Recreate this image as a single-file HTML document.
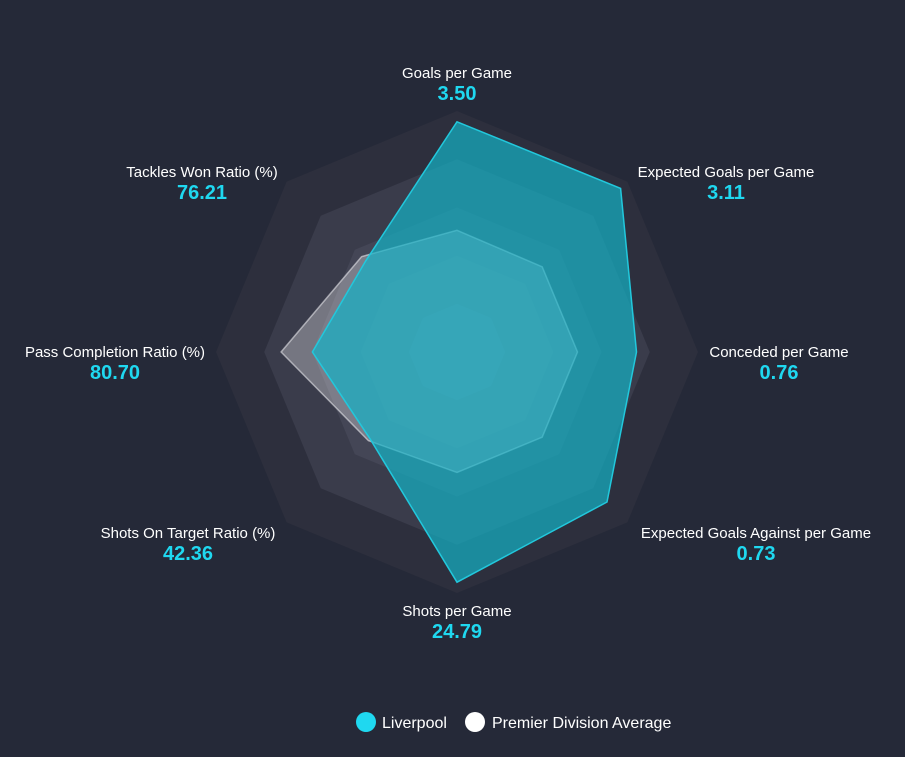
<!DOCTYPE html>
<html><head><meta charset="utf-8">
<style>
html,body{margin:0;padding:0;background:#252938;}
body{width:905px;height:752px;overflow:hidden;font-family:"Liberation Sans",sans-serif;}
svg text{font-family:"Liberation Sans",sans-serif;}
</style></head>
<body>
<svg id="chart" width="905" height="752" xmlns="http://www.w3.org/2000/svg">
<rect width="905" height="752" fill="#252938"/>
<g id="rings"></g>
<g id="series"></g>
<g id="labels"></g>
<g>
  <g>
    <circle cx="366" cy="722" r="10" fill="#1fd8f0"/>
    <text x="382" y="728" font-size="16" fill="#ffffff">Liverpool</text>
  </g>
  <g>
    <circle cx="475" cy="722" r="10" fill="#ffffff"/>
    <text x="492" y="728" font-size="16" fill="#ffffff">Premier Division Average</text>
  </g>
</g>
</svg>
<script>
const categories = ["Goals per Game","Expected Goals per Game","Conceded per Game","Expected Goals Against per Game","Shots per Game","Shots On Target Ratio (%)","Pass Completion Ratio (%)","Tackles Won Ratio (%)"];
const valueLabels = ["3.50","3.11","0.76","0.73","24.79","42.36","80.70","76.21"];
const liverpool = [0.955, 0.96, 0.745, 0.88, 0.955, 0.51, 0.60, 0.535];
const average = [0.505, 0.50, 0.50, 0.50, 0.50, 0.52, 0.73, 0.56];
const ringLevels = [1, 0.8, 0.6, 0.4, 0.2];

const NS = "http://www.w3.org/2000/svg";
const cx = 457, cy = 352, R = 241;
function pt(i, f){ const a = -Math.PI/2 + i*Math.PI/4; return [cx + Math.cos(a)*R*f, cy + Math.sin(a)*R*f]; }
function poly(vals){ return vals.map((v,i)=>pt(i,v).map(n=>n.toFixed(1)).join(",")).join(" "); }

const rings = document.getElementById("rings");
const ringFills = ["#2d2f3d","#3a3c4b","#444656","#4c4e5e","#54566a"];
ringLevels.forEach((lv,k)=>{
  const p = document.createElementNS(NS,"polygon");
  
  
  p.setAttribute("points", poly(categories.map(()=>lv)));
  p.setAttribute("fill", ringFills[k]);
  rings.appendChild(p);
});

const series = document.getElementById("series");
const avg = document.createElementNS(NS,"polygon");


avg.setAttribute("points", poly(average));
avg.setAttribute("fill", "rgba(255,255,255,0.3)");
avg.setAttribute("stroke", "rgba(230,230,235,0.6)");
avg.setAttribute("stroke-width", "1.5");
series.appendChild(avg);
const lp = document.createElementNS(NS,"polygon");


lp.setAttribute("points", poly(liverpool));
lp.setAttribute("fill", "rgba(20,178,198,0.7)");
lp.setAttribute("stroke", "#22c8dc");
lp.setAttribute("stroke-width", "1.5");
series.appendChild(lp);

const labels = document.getElementById("labels");
const labelPos = [[457,78],[726,177],[779,357],[756,538],[457,616],[188,538],[115,357],[202,177]];
categories.forEach((c,i)=>{
  const [x,y] = labelPos[i];
  const t = document.createElementNS(NS,"text");
  
  
  t.setAttribute("x", x); t.setAttribute("y", y);
  t.setAttribute("text-anchor","middle"); t.setAttribute("font-size","15"); t.setAttribute("fill","#ffffff");
  t.textContent = c; labels.appendChild(t);
  const v = document.createElementNS(NS,"text");
  
  
  v.setAttribute("x", x); v.setAttribute("y", y+22);
  v.setAttribute("text-anchor","middle"); v.setAttribute("font-size","20"); v.setAttribute("font-weight","bold"); v.setAttribute("fill","#1fd8f0");
  v.textContent = valueLabels[i]; labels.appendChild(v);
});
</script>
</body></html>
